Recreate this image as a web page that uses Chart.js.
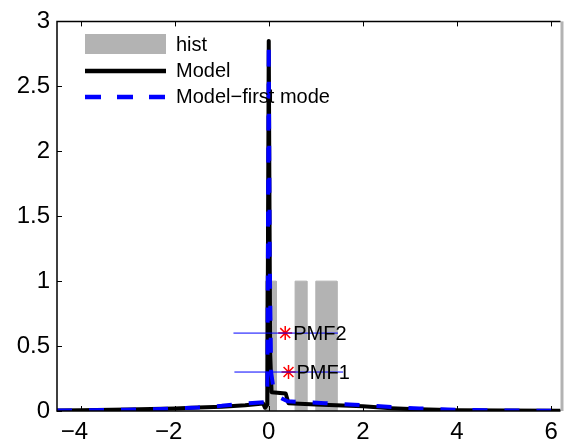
<!DOCTYPE html>
<html>
<head>
<meta charset="utf-8">
<script src="https://cdn.jsdelivr.net/npm/chart.js@4/dist/chart.umd.min.js"></script>
<style>
body { margin: 0; background: #fff; }
#wrap { width: 569px; height: 446px; }
</style>
</head>
<body>
<div id="wrap"><canvas id="chart" width="569" height="446"></canvas></div>
<script>
// histogram bins
let histLeft = [-0.07, 0.56, 1.0];
let histRight = [0.16, 0.81, 1.45];
let histCount = [1, 1, 1];

// model
let modelX = [-4.5, -4, -3, -2, -1.5, -1, -0.5, -0.12, -0.08, -0.03, 0, 0.03, 0.06, 0.36, 0.42, 1, 2, 2.6, 3, 4, 5, 6.2];
let modelY = [0.004, 0.006, 0.012, 0.02, 0.026, 0.032, 0.045, 0.058, 0.025, 0.05, 2.85, 0.45, 0.145, 0.135, 0.06, 0.05, 0.037, 0.022, 0.015, 0.006, 0.003, 0.001];

// model - first mode
let firstX = [-4.5, -4, -3, -2.5, -2, -1.5, -1, -0.5, -0.1, -0.03, 0, 0.02, 0.05, 0.1, 0.2, 0.4, 0.8, 1.2, 2, 2.6, 3.2, 4, 5, 6.2];
let firstY = [0.003, 0.005, 0.01, 0.013, 0.02, 0.027, 0.04, 0.058, 0.068, 0.1, 2.84, 1.2, 0.3, 0.17, 0.11, 0.075, 0.068, 0.06, 0.045, 0.03, 0.02, 0.01, 0.004, 0.002];

// PMF estimates and intervals
let pmfNames = ["PMF1", "PMF2"];
let pmfX = [0.42, 0.35];
let pmfY = [0.3, 0.6];
let pmfLow = [-0.73, -0.75];
let pmfHigh = [1.58, 1.47];

let xTicks = [-4, -2, 0, 2, 4, 6];
let yTicks = [0, 0.5, 1, 1.5, 2, 2.5, 3];

const FONT = "'Liberation Sans', Arial, Helvetica, sans-serif";
const GREY = "#b3b3b3";

let histPts = [];
histLeft.forEach((l, i) => {
	histPts.push({x: l, y: 0}, {x: l, y: histCount[i]}, {x: histRight[i], y: histCount[i]}, {x: histRight[i], y: 0});
});
let modelPts = modelX.map((x, i) => ({x: x, y: modelY[i]}));
let firstPts = firstX.map((x, i) => ({x: x, y: firstY[i]}));

let pmfSets = pmfNames.map((n, i) => ({
	label: n + " interval",
	data: [{x: pmfLow[i], y: pmfY[i]}, {x: pmfHigh[i], y: pmfY[i]}],
	borderColor: "#0000ff",
	borderWidth: 1,
	pointRadius: 0,
	order: 0
}));

let datasets = [
	...pmfSets,
	{
		label: "PMF",
		data: pmfX.map((x, i) => ({x: x, y: pmfY[i]})),
		showLine: false,
		pointStyle: "star",
		pointRadius: 7,
		borderColor: "#ff0000",
		backgroundColor: "#ff0000",
		pointBorderWidth: 1.5,
		order: 0
	},
	{
		label: "Model\u2212first mode",
		data: firstPts,
		borderColor: "#0000ff",
		borderWidth: 4,
		borderDash: [15, 17],
		pointRadius: 0,
		order: 1
	},
	{
		label: "Model",
		data: modelPts,
		borderColor: "#000000",
		borderWidth: 4,
		borderJoinStyle: "round",
		borderCapStyle: "round",
		pointRadius: 0,
		order: 2
	},
	{
		label: "hist",
		data: histPts,
		borderColor: GREY,
		backgroundColor: GREY,
		borderWidth: 1,
		fill: "origin",
		pointRadius: 0,
		order: 3
	}
];

// axes box, inward ticks, legend and PMF texts
const decor = {
	id: "decor",
	afterDraw(chart) {
		const c = chart.ctx;
		const a = chart.chartArea;
		const xs = chart.scales.x, ys = chart.scales.y;
		c.save();
		// right edge
		c.fillStyle = GREY;
		c.fillRect(a.right, a.top, 3, a.bottom - a.top);
		// box
		c.strokeStyle = "#000";
		c.lineWidth = 1.5;
		c.beginPath();
		c.moveTo(a.right, a.top); c.lineTo(a.left, a.top);
		c.lineTo(a.left, a.bottom); c.lineTo(a.right, a.bottom);
		c.stroke();
		// ticks
		c.lineWidth = 1;
		c.beginPath();
		xTicks.forEach(v => {
			const p = Math.round(xs.getPixelForValue(v)) + 0.5;
			c.moveTo(p, a.bottom); c.lineTo(p, a.bottom - 5);
			c.moveTo(p, a.top); c.lineTo(p, a.top + 5);
		});
		yTicks.forEach(v => {
			const p = Math.round(ys.getPixelForValue(v)) + 0.5;
			c.moveTo(a.left, p); c.lineTo(a.left + 5, p);
		});
		c.stroke();
		// PMF labels
		c.fillStyle = "#000";
		c.font = "20px " + FONT;
		c.textBaseline = "middle";
		c.textAlign = "left";
		pmfNames.forEach((n, i) => {
			c.fillText(n, xs.getPixelForValue(pmfX[i]) + 8, ys.getPixelForValue(pmfY[i]) + 1);
		});
		// legend
		const x0 = 85, x1 = 166, tx = 176;
		c.fillStyle = GREY;
		c.fillRect(x0, 34, x1 - x0, 20);
		c.lineWidth = 4.5;
		c.strokeStyle = "#000";
		c.beginPath(); c.moveTo(x0, 71); c.lineTo(x1, 71); c.stroke();
		c.strokeStyle = "#0000ff";
		c.setLineDash([16, 16]);
		c.beginPath(); c.moveTo(x0, 97); c.lineTo(x1, 97); c.stroke();
		c.setLineDash([]);
		c.fillStyle = "#000";
		const labels = ["hist", "Model", "Model\u2212first mode"];
		[45, 71, 97].forEach((y, i) => c.fillText(labels[i], tx, y));
		c.restore();
	}
};

// negative labels keep the digit centred on the tick, minus hangs left
const fmtX = v => v < 0 ? "\u2212" + Math.abs(v) + "\u2002" : String(v);
const fmtY = v => String(v);

let chart = new Chart(document.getElementById("chart"), {
	type: "line",
	data: {datasets: datasets},
	options: {
		responsive: false,
		animation: false,
		layout: {padding: {top: 16, right: 3, left: 0, bottom: 0}},
		plugins: {legend: {display: false}, tooltip: {enabled: false}},
		scales: {
			x: {
				type: "linear",
				min: -4.5,
				max: 6.2,
				afterBuildTicks: s => { s.ticks = xTicks.map(v => ({value: v})); },
				afterFit: s => { s.height = 35; },
				grid: {display: false, drawTicks: false},
				border: {display: false},
				ticks: {
					callback: fmtX,
					color: "#000",
					padding: 7,
					maxRotation: 0,
					font: {family: FONT, size: 24}
				}
			},
			y: {
				min: 0,
				max: 3,
				afterBuildTicks: s => { s.ticks = yTicks.map(v => ({value: v})); },
				afterFit: s => { s.width = 57; },
				grid: {display: false, drawTicks: false},
				border: {display: false},
				ticks: {
					callback: fmtY,
					color: "#000",
					padding: 7,
					font: {family: FONT, size: 24}
				}
			}
		}
	},
	plugins: [decor]
});
</script>
</body>
</html>
